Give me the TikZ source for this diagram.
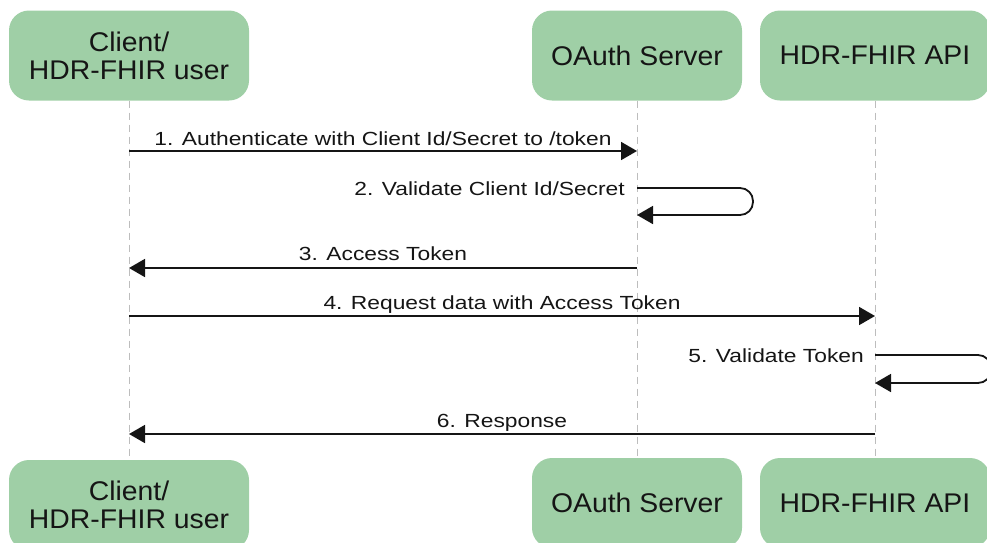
\documentclass[tikz,border=0pt]{standalone}
\usepackage{fontspec}
\setmainfont{Liberation Sans}
\usetikzlibrary{arrows.meta}
\definecolor{boxgreen}{HTML}{9FCFA6}
\definecolor{ink}{HTML}{151515}
\definecolor{lifegray}{HTML}{BDBDBD}
\newcommand\bxw[1]{\scalebox{1.05}[1]{#1}}
\newcommand\mw[1]{\scalebox{1.2}[1]{#1}}
\begin{document}
\begin{tikzpicture}[x=1pt,y=-1pt,
  actor/.style={fill=boxgreen, rounded corners=20pt, minimum width=240pt,
    minimum height=90pt, inner sep=0pt, align=center, text=ink,
    font=\fontsize{27}{28}\selectfont},
  life/.style={draw=lifegray, line width=1pt, dash pattern=on 7pt off 5pt},
  msg/.style={draw=ink, line width=1.8pt, -{Triangle[length=16pt,width=18pt]}},
  lbl/.style={text=ink, font=\fontsize{19}{22}\selectfont, inner sep=0pt, anchor=base}]
\useasboundingbox (0,0) rectangle (987,542);
\clip (0,0) rectangle (987,542);
% actors top
\node[actor] (ct) at (129,55.5) {\bxw{Client/}\\\bxw{HDR-FHIR user}};
\node[actor, minimum width=210pt] (ot) at (637,55.5) {\bxw{OAuth Server}};
\node[actor, minimum width=230pt] (at) at (875,55.5) {\bxw{HDR-FHIR API}};
% actors bottom
\node[actor] (cb) at (129,505) {\bxw{Client/}\\\bxw{HDR-FHIR user}};
\node[actor, minimum width=210pt] (ob) at (637,503) {\bxw{OAuth Server}};
\node[actor, minimum width=230pt] (ab) at (875,503) {\bxw{HDR-FHIR API}};
% lifelines
\draw[life] (ct.south) -- (cb.north);
\draw[life] (ot.south) -- (ob.north);
\draw[life] (at.south) -- (ab.north);
% 1
\draw[msg] (ct |- 0,151) -- (ot |- 0,151);
\node[lbl] (l1) at (383,145) {\mw{1. Authenticate with Client Id/Secret to /token}};
% 2
\draw[msg, rounded corners=13pt] (ot |- 0,188) -- (753,188) -- (753,215) -- (ot |- 0,215);
\node[lbl, anchor=base east] (l2) at (625,195) {\mw{2. Validate Client Id/Secret}};
% 3
\draw[msg] (ot |- 0,268) -- (ct |- 0,268);
\node[lbl] (l3) at (383,260) {\mw{3. Access Token}};
% 4
\draw[msg] (ct |- 0,316) -- (at |- 0,316);
\node[lbl] (l4) at (502,309) {\mw{4. Request data with Access Token}};
% 5
\draw[msg, rounded corners=13pt] (at |- 0,355) -- (991,355) -- (991,383) -- (at |- 0,383);
\node[lbl, anchor=base east] (l5) at (864,362) {\mw{5. Validate Token}};
% 6
\draw[msg] (at |- 0,434) -- (ct |- 0,434);
\node[lbl] (l6) at (502,427) {\mw{6. Response}};
\end{tikzpicture}
\end{document}
